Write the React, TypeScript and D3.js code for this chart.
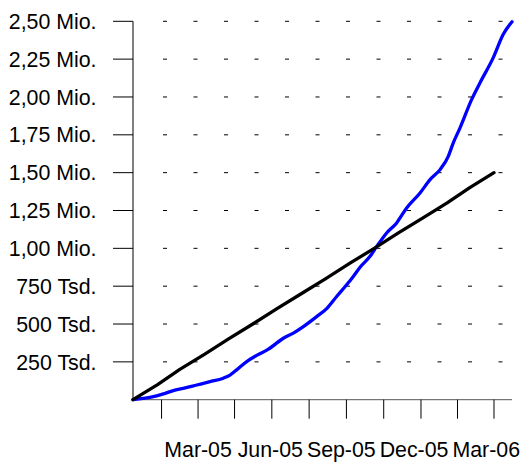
import React from "react";
import * as d3 from "d3";

// ---- data ----
// x values are days since 1 Jan 2005
const yTickValues = [250000, 500000, 750000, 1000000, 1250000, 1500000, 1750000, 2000000, 2250000, 2500000];
const yTickLabels = ["250 Tsd.", "500 Tsd.", "750 Tsd.", "1,00 Mio.", "1,25 Mio.", "1,50 Mio.", "1,75 Mio.", "2,00 Mio.", "2,25 Mio.", "2,50 Mio."];

const xTickDays = [36, 82, 128, 175, 222, 269, 316, 363, 409, 455];
const xTickLabels = ["", "Mar-05", "", "Jun-05", "", "Sep-05", "", "Dec-05", "", "Mar-06"];

const targetDays = [0, 31, 59, 90, 120, 151, 181, 212, 243, 273, 304, 334, 365, 396, 424, 455];
const targetValues = [0, 100000, 200000, 300000, 400000, 500000, 600000, 700000, 800000, 900000, 1000000, 1100000, 1200000, 1300000, 1400000, 1500000];

const actualDays = [0, 13, 25.6, 38.2, 50.8, 63.4, 80.3, 97.1, 113.8, 122.3, 130.7, 143.3, 155.9, 170.2, 189.5, 202.1, 214.7, 231.5, 244.1, 256.7, 269.3, 277.7, 286.2, 298.8, 307.1, 319.7, 332.3, 344.9, 361.8, 374.4, 387, 397.4, 403.7, 412.2, 426.9, 437.4, 454.1, 466.7, 477.7];
const actualValues = [0, 9000, 20000, 38000, 60000, 75000, 97000, 119000, 142000, 163000, 197000, 252000, 293000, 332000, 406000, 440000, 483000, 549000, 602000, 682000, 759000, 814000, 875000, 947000, 1011000, 1101000, 1168000, 1267000, 1366000, 1454000, 1520000, 1608000, 1697000, 1796000, 1984000, 2094000, 2260000, 2414000, 2497000];

const W = 527;
const H = 462;
const PLOT = { left: 133, right: 512, top: 21.3, bottom: 399.7 };
const FONT = "'Liberation Sans', Arial, sans-serif";
const FS = 21.33;

function measure(text: string): number {
  if (typeof document === "undefined") return text.length * 11;
  const c = document.createElement("canvas").getContext("2d");
  if (!c) return text.length * 11;
  c.font = `${FS}px ${FONT}`;
  return c.measureText(text).width;
}

export default function App() {
  const x = d3.scaleLinear().domain([0, 477.7]).range([PLOT.left, PLOT.right]);
  const y = d3.scaleLinear().domain([0, 2500000]).range([PLOT.bottom, PLOT.top]);

  const curved = d3
    .line<[number, number]>()
    .x((d) => x(d[0]))
    .y((d) => y(d[1]))
    .curve(d3.curveMonotoneX);
  const straight = d3
    .line<[number, number]>()
    .x((d) => x(d[0]))
    .y((d) => y(d[1]));

  const target: [number, number][] = targetDays.map((d, i) => [d, targetValues[i]]);
  const actual: [number, number][] = actualDays.map((d, i) => [d, actualValues[i]]);

  const gridStart = PLOT.left + 30;

  // label layout: centred on ticks, pushed left so they stay inside and do not collide
  const labelled = xTickDays
    .map((d, i) => ({ d, text: xTickLabels[i] }))
    .filter((l) => l.text);
  const centres: number[] = new Array(labelled.length);
  let limit = PLOT.right + 8;
  for (let i = labelled.length - 1; i >= 0; i--) {
    const w = measure(labelled[i].text);
    const c = Math.min(x(labelled[i].d), limit - w / 2);
    centres[i] = c;
    limit = c - w / 2 - 4;
  }

  return (
    <svg
      width={W}
      height={H}
      style={{ position: "absolute", left: 0, top: 0, background: "#fff" }}
      fontFamily={FONT}
    >
      {/* grid */}
      {yTickValues.map((v) => (
        <line
          key={"g" + v}
          x1={gridStart}
          x2={PLOT.right}
          y1={y(v)}
          y2={y(v)}
          stroke="#000"
          strokeWidth={1}
          strokeDasharray="4 26.5"
        />
      ))}
      {/* y axis */}
      <line x1={PLOT.left} x2={PLOT.left} y1={y(2500000)} y2={y(0)} stroke="#000" strokeWidth={1} />
      {yTickValues.map((v, i) => (
        <g key={"y" + v}>
          <line x1={PLOT.left - 20} x2={PLOT.left} y1={y(v)} y2={y(v)} stroke="#000" strokeWidth={1} />
          <text x={96.5} y={y(v)} dy="0.36em" textAnchor="end" fontSize={FS} fill="#000">
            {yTickLabels[i]}
          </text>
        </g>
      ))}
      {/* x axis */}
      <line x1={PLOT.left} x2={PLOT.right} y1={y(0)} y2={y(0)} stroke="#555" strokeWidth={1} />
      {xTickDays.map((d) => (
        <line key={"x" + d} x1={x(d)} x2={x(d)} y1={y(0)} y2={y(0) + 19} stroke="#000" strokeWidth={1} />
      ))}
      {labelled.map((l, i) => (
        <text key={"l" + l.d} x={centres[i]} y={y(0) + 57} textAnchor="middle" fontSize={FS} fill="#000">
          {l.text}
        </text>
      ))}
      {/* series */}
      <path d={curved(actual) || ""} fill="none" stroke="#0000ff" strokeWidth={3.3} strokeLinejoin="round" strokeLinecap="round" />
      <path d={straight(target) || ""} fill="none" stroke="#000" strokeWidth={3.3} strokeLinejoin="round" strokeLinecap="round" />
    </svg>
  );
}
